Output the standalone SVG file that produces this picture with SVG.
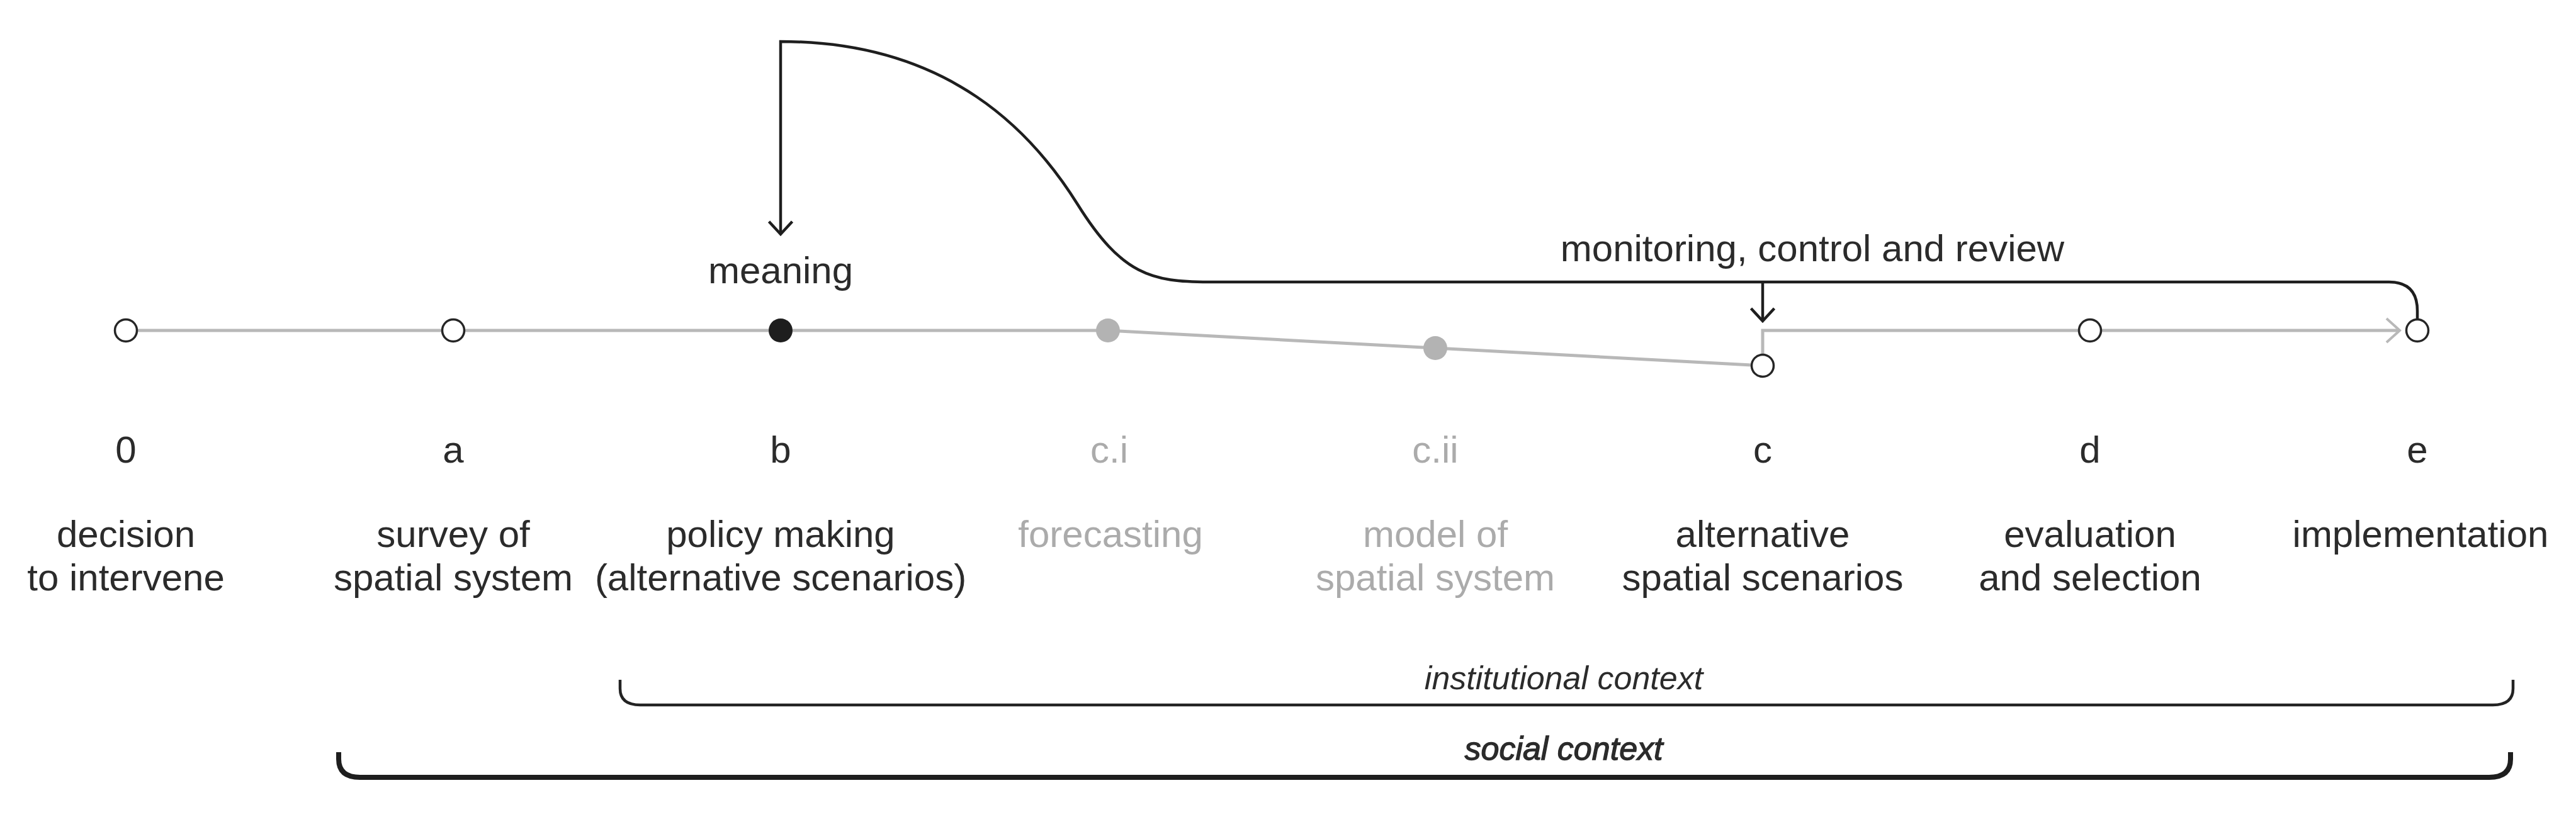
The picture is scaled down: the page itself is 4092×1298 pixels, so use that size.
<svg xmlns="http://www.w3.org/2000/svg" width="4092" height="1298" viewBox="0 0 4092 1298">
<style>
.t{font-family:"Liberation Sans",Arial,sans-serif;font-size:60px;fill:#2b2b2b;text-anchor:middle}
.g{fill:#ababab}
.it{font-style:italic;font-size:52px}
.bold{stroke:#2b2b2b;stroke-width:1.3}
.open{fill:#fff;stroke:#262626;stroke-width:3.5}
.filled{fill:#1e1e1e}
.grey{fill:#b3b3b3}
.gl{fill:none;stroke:#b8b8b8;stroke-width:5}
.bl{fill:none;stroke:#1e1e1e;stroke-width:4.5}
</style>
<defs>
<marker id="ab" viewBox="-26 -24 30 48" refX="0" refY="0" markerWidth="30" markerHeight="48" markerUnits="userSpaceOnUse" orient="auto">
<path d="M-20,-18.5 L0,0 L-20,18.5" fill="none" stroke="#1e1e1e" stroke-width="4.5"/>
</marker>
<marker id="ag" viewBox="-26 -24 30 48" refX="0" refY="0" markerWidth="30" markerHeight="48" markerUnits="userSpaceOnUse" orient="auto">
<path d="M-21,-19 L0,0 L-21,19" fill="none" stroke="#b8b8b8" stroke-width="4"/>
</marker>
</defs>

<g id="connectors">
<polyline class="gl" points="200,525 1760,525 2280,553 2800,581"/>
<path class="gl" d="M2800,562 L2800,525 L3812,525" marker-end="url(#ag)"/>
<path class="bl" d="M3840,506 L3840,494 Q3840,448 3795,448 L1920,448 C1830,448 1782,437 1712,325 C1642,213 1510,66 1240,66 L1240,372" marker-end="url(#ab)"/>
<path class="bl" d="M2800,448 L2800,510" marker-end="url(#ab)"/>
</g>

<g id="node-0"><circle class="open" cx="200" cy="525" r="17.5"/><text class="t" x="200" y="735">0</text><text class="t" x="200" y="869">decision</text><text class="t" x="200" y="938">to intervene</text></g>
<g id="node-a"><circle class="open" cx="720" cy="525" r="17.5"/><text class="t" x="720" y="735">a</text><text class="t" x="720" y="869">survey of</text><text class="t" x="720" y="938">spatial system</text></g>
<g id="node-b"><circle class="filled" cx="1240" cy="525" r="19"/><text class="t" x="1240" y="735">b</text><text class="t" x="1240" y="869">policy making</text><text class="t" x="1240" y="938">(alternative scenarios)</text></g>
<g id="node-ci"><circle class="grey" cx="1760" cy="525" r="19"/><text class="t g" x="1762" y="735">c.i</text><text class="t g" x="1764" y="869">forecasting</text></g>
<g id="node-cii"><circle class="grey" cx="2280" cy="553" r="19"/><text class="t g" x="2280" y="735">c.ii</text><text class="t g" x="2280" y="869">model of</text><text class="t g" x="2280" y="938">spatial system</text></g>
<g id="node-c"><circle class="open" cx="2800" cy="581" r="17.5"/><text class="t" x="2800" y="735">c</text><text class="t" x="2800" y="869">alternative</text><text class="t" x="2800" y="938">spatial scenarios</text></g>
<g id="node-d"><circle class="open" cx="3320" cy="525" r="17.5"/><text class="t" x="3320" y="735">d</text><text class="t" x="3320" y="869">evaluation</text><text class="t" x="3320" y="938">and selection</text></g>
<g id="node-e"><circle class="open" cx="3840" cy="525" r="17.5"/><text class="t" x="3840" y="735">e</text><text class="t" x="3845" y="869">implementation</text></g>

<g id="labels">
<text class="t" x="1240" y="450">meaning</text>
<text class="t" x="2879" y="415">monitoring, control and review</text>
</g>

<g id="institutional-context">
<path fill="none" stroke="#232323" stroke-width="4.5" d="M985,1080 L985,1094 Q985,1120 1017,1120 L3960,1120 Q3992,1120 3992,1094 L3992,1080"/>
<text class="t it" x="2484" y="1095">institutional context</text>
</g>
<g id="social-context">
<path fill="none" stroke="#1e1e1e" stroke-width="8" d="M538,1195 L538,1206 Q538,1235 572,1235 L3954,1235 Q3988,1235 3988,1206 L3988,1195"/>
<text class="t it bold" x="2484" y="1207">social context</text>
</g>
</svg>
